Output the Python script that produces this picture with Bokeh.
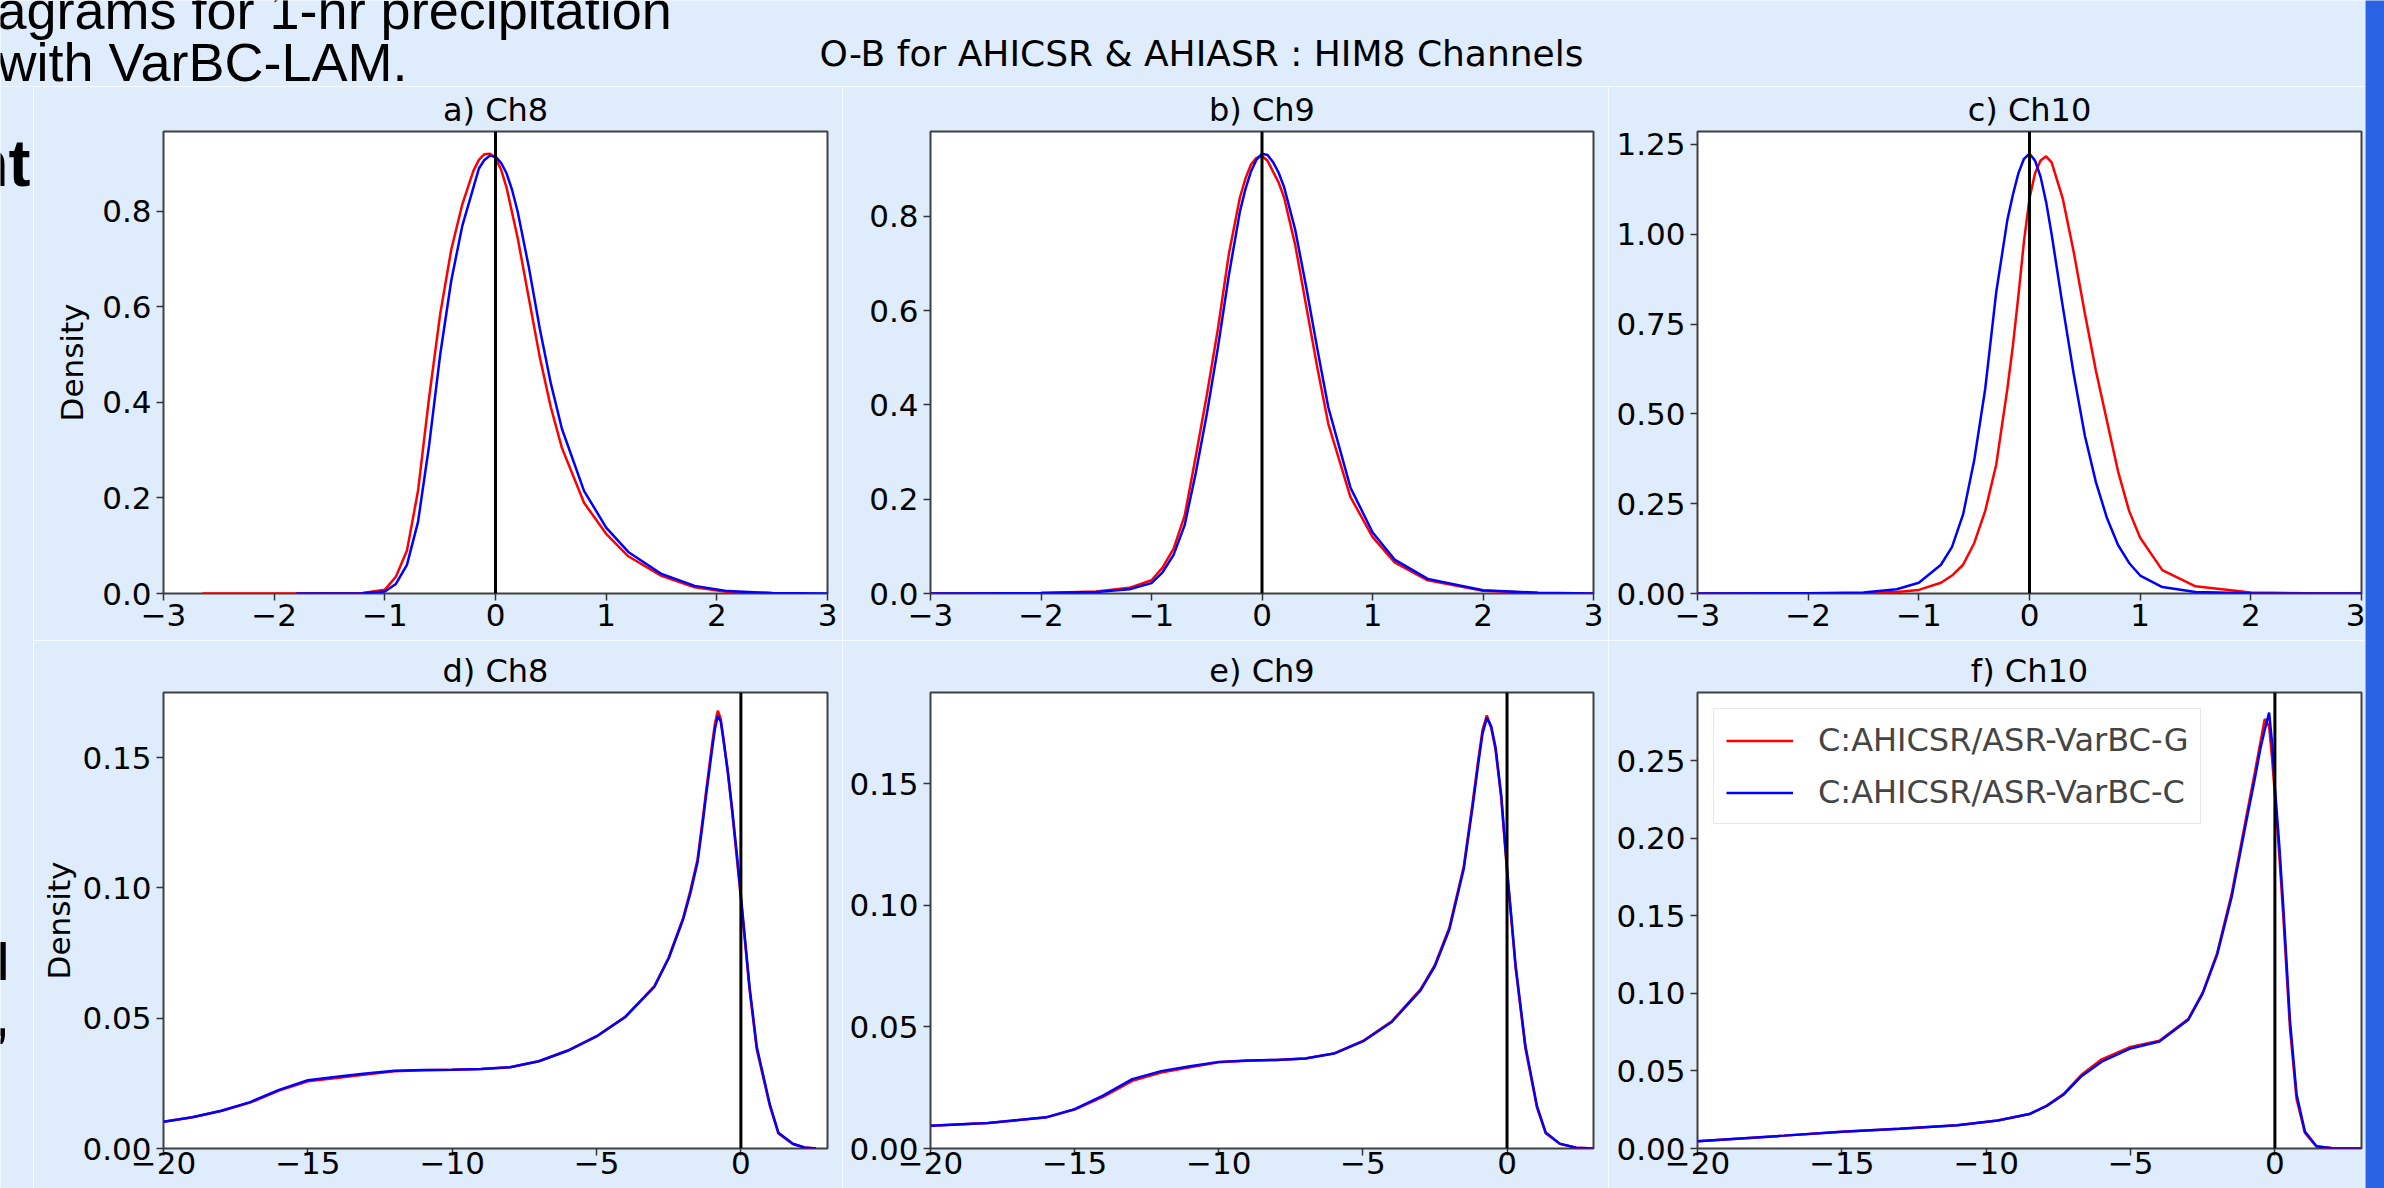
from bokeh.plotting import figure
from bokeh.models import Range1d, FixedTicker, Span, Label, Legend, LegendItem
from bokeh.layouts import row, column
from bokeh.embed import file_html
from bokeh.resources import INLINE

# ---------------- data ----------------
SUPTITLE = "O-B for AHICSR & AHIASR : HIM8 Channels"
TITLES = ["a) Ch8", "b) Ch9", "c) Ch10", "d) Ch8", "e) Ch9", "f) Ch10"]
SERIES = ["C:AHICSR/ASR-VarBC-G", "C:AHICSR/ASR-VarBC-C"]
SLIDE_LINE1 = "agrams for 1-hr precipitation"
SLIDE_LINE2 = "with VarBC-LAM."
SLIDE_FRAG = "nt"
SLIDE_FRAG2 = "l"
SLIDE_FRAG3 = ","

# panel a (Ch8, clear sky)
XA_G = [-2.65, -1.8, -1.2, -1.0, -0.9, -0.8, -0.7, -0.6, -0.5, -0.4, -0.3, -0.2, -0.15, -0.1, -0.05, 0.0,
        0.05, 0.1, 0.2, 0.3, 0.4, 0.5, 0.6, 0.8, 1.0, 1.2, 1.5, 1.8, 2.1, 2.55]
A_G = [0.0, 0.0, 0.001, 0.008, 0.035, 0.09, 0.215, 0.41, 0.585, 0.72, 0.815, 0.885, 0.908, 0.92, 0.921, 0.912,
       0.888, 0.85, 0.745, 0.62, 0.495, 0.39, 0.305, 0.19, 0.125, 0.078, 0.037, 0.013, 0.003, 0.0005]
XA_C = [-1.8, -1.2, -1.0, -0.9, -0.8, -0.7, -0.6, -0.5, -0.4, -0.3, -0.2, -0.15, -0.1, -0.05, 0.0, 0.05,
        0.1, 0.15, 0.2, 0.3, 0.4, 0.5, 0.6, 0.8, 1.0, 1.2, 1.5, 1.8, 2.1, 2.5, 3.0]
A_C = [0.0, 0.0005, 0.004, 0.02, 0.06, 0.15, 0.31, 0.50, 0.655, 0.77, 0.85, 0.89, 0.908, 0.917, 0.915, 0.902,
       0.88, 0.845, 0.80, 0.685, 0.555, 0.44, 0.345, 0.215, 0.138, 0.087, 0.041, 0.016, 0.005, 0.001, 0.0]

# panel b (Ch9, clear sky)
XB = [-3.0, -2.0, -1.5, -1.2, -1.0, -0.9, -0.8, -0.7, -0.6, -0.5, -0.4, -0.3, -0.2, -0.15, -0.1, -0.05, 0.0,
      0.05, 0.1, 0.15, 0.2, 0.3, 0.4, 0.5, 0.6, 0.8, 1.0, 1.2, 1.5, 2.0, 2.5, 3.0]
B_G = [0.0, 0.001, 0.004, 0.012, 0.028, 0.055, 0.095, 0.165, 0.29, 0.42, 0.56, 0.72, 0.84, 0.88, 0.91, 0.924,
       0.928, 0.918, 0.895, 0.872, 0.84, 0.74, 0.61, 0.48, 0.36, 0.205, 0.12, 0.066, 0.028, 0.006, 0.001, 0.0]
B_C = [0.0, 0.001, 0.003, 0.009, 0.022, 0.045, 0.082, 0.145, 0.255, 0.38, 0.52, 0.675, 0.81, 0.858, 0.895, 0.92,
       0.933, 0.93, 0.915, 0.893, 0.862, 0.772, 0.65, 0.52, 0.395, 0.225, 0.13, 0.072, 0.031, 0.007, 0.0015, 0.0]

# panel c (Ch10, clear sky)
XC = [-3.0, -2.0, -1.5, -1.2, -1.0, -0.8, -0.7, -0.6, -0.5, -0.4, -0.3, -0.2, -0.15, -0.1, -0.05, 0.0, 0.05,
      0.1, 0.15, 0.2, 0.3, 0.4, 0.5, 0.6, 0.7, 0.8, 0.9, 1.0, 1.2, 1.5, 2.0, 2.5, 3.0]
C_G = [0.0, 0.0, 0.001, 0.004, 0.01, 0.03, 0.05, 0.08, 0.14, 0.23, 0.36, 0.57, 0.69, 0.83, 0.98, 1.10, 1.17,
       1.205, 1.217, 1.20, 1.10, 0.95, 0.78, 0.62, 0.48, 0.34, 0.23, 0.155, 0.065, 0.02, 0.003, 0.0005, 0.0]
C_C = [0.0, 0.0005, 0.003, 0.012, 0.03, 0.08, 0.13, 0.22, 0.37, 0.57, 0.84, 1.04, 1.11, 1.17, 1.21, 1.224,
       1.205, 1.16, 1.09, 1.00, 0.80, 0.61, 0.44, 0.31, 0.21, 0.135, 0.085, 0.05, 0.018, 0.004, 0.0005, 0.0, 0.0]

# panel d (Ch8, all sky)
XD = [-20, -19, -18, -17, -16, -15, -14, -13, -12, -11, -10, -9, -8, -7, -6, -5, -4, -3, -2.5, -2, -1.75,
      -1.5, -1.35, -1.2, -1.0, -0.9, -0.8, -0.7, -0.6, -0.45, -0.3, -0.15, 0.0, 0.3, 0.55, 1.0, 1.3, 1.8,
      2.2, 2.6]
D_G = [0.0103, 0.0120, 0.0144, 0.0176, 0.0222, 0.0258, 0.0271, 0.0284, 0.0296, 0.0300, 0.0302, 0.0305,
       0.0312, 0.0335, 0.0376, 0.0431, 0.0506, 0.0622, 0.0733, 0.0885, 0.0990, 0.1110, 0.1240, 0.1375,
       0.1550, 0.1630, 0.1680, 0.1650, 0.1570, 0.1440, 0.1290, 0.1125, 0.0960, 0.0610, 0.0380, 0.0165,
       0.0058, 0.0017, 0.0004, 0.0]
D_C = [0.0103, 0.0120, 0.0145, 0.0178, 0.0225, 0.0262, 0.0275, 0.0288, 0.0298, 0.0301, 0.0302, 0.0305,
       0.0312, 0.0335, 0.0375, 0.0430, 0.0505, 0.0620, 0.0730, 0.0880, 0.0980, 0.1100, 0.1225, 0.1360,
       0.1530, 0.1610, 0.1660, 0.1640, 0.1565, 0.1445, 0.1300, 0.1140, 0.0970, 0.0620, 0.0390, 0.0170,
       0.0060, 0.0018, 0.0004, 0.0]

# panel e (Ch9, all sky)
XE = [-20, -18, -16, -15, -14, -13, -12, -11, -10, -9, -8, -7, -6, -5, -4, -3, -2.5, -2, -1.5, -1.2,
      -1.0, -0.85, -0.7, -0.55, -0.4, -0.2, 0.0, 0.3, 0.64, 1.04, 1.34, 1.83, 2.4, 3.0]
E_G = [0.0093, 0.0105, 0.0127, 0.0160, 0.0213, 0.0278, 0.0312, 0.0334, 0.0354, 0.0361, 0.0364, 0.0370,
       0.0391, 0.0442, 0.0523, 0.0654, 0.0755, 0.0908, 0.1160, 0.1415, 0.1595, 0.1720, 0.1780, 0.1730,
       0.1640, 0.1440, 0.1140, 0.0740, 0.0410, 0.0168, 0.0063, 0.0019, 0.0003, 0.0]
E_C = [0.0093, 0.0105, 0.0128, 0.0162, 0.0218, 0.0285, 0.0318, 0.0338, 0.0356, 0.0362, 0.0364, 0.0370,
       0.0390, 0.0440, 0.0520, 0.0650, 0.0750, 0.0900, 0.1150, 0.1400, 0.1580, 0.1705, 0.1770, 0.1735,
       0.1650, 0.1450, 0.1150, 0.0750, 0.0420, 0.0174, 0.0066, 0.0020, 0.0003, 0.0]

# panel f (Ch10, all sky)
XF = [-20, -17, -15, -13, -11, -9.6, -8.5, -7.9, -7.3, -6.7, -6, -5, -4, -3, -2.5, -2, -1.5, -1, -0.7,
      -0.5, -0.35, -0.2, -0.1, 0.0, 0.15, 0.29, 0.52, 0.75, 1.04, 1.44, 2.0, 3.0]
F_G = [0.0047, 0.0083, 0.0108, 0.0127, 0.0150, 0.0180, 0.0222, 0.0277, 0.0355, 0.0475, 0.0575, 0.0655,
       0.0695, 0.0835, 0.1005, 0.1260, 0.1640, 0.2130, 0.2420, 0.2620, 0.2770, 0.2720, 0.2520, 0.2280,
       0.1900, 0.1500, 0.0780, 0.0320, 0.0100, 0.0013, 0.0002, 0.0]
F_C = [0.0047, 0.0083, 0.0108, 0.0127, 0.0150, 0.0180, 0.0222, 0.0275, 0.0350, 0.0466, 0.0560, 0.0645,
       0.0690, 0.0830, 0.1000, 0.1250, 0.1620, 0.2100, 0.2380, 0.2580, 0.2700, 0.2810, 0.2620, 0.2330,
       0.1960, 0.1560, 0.0830, 0.0350, 0.0110, 0.0015, 0.0002, 0.0]

# ticks and tick labels
XT_TOP = [-3, -2, -1, 0, 1, 2, 3]
XT_TOP_LABELS = ["\u22123", "\u22122", "\u22121", "0", "1", "2", "3"]
XT_BOT = [-20, -15, -10, -5, 0]
XT_BOT_LABELS = ["\u221220", "\u221215", "\u221210", "\u22125", "0"]
YT_AB = [0.0, 0.2, 0.4, 0.6, 0.8]
YT_AB_LABELS = ["0.0", "0.2", "0.4", "0.6", "0.8"]
YT_C = [0.0, 0.25, 0.5, 0.75, 1.0, 1.25]
YT_C_LABELS = ["0.00", "0.25", "0.50", "0.75", "1.00", "1.25"]
YT_DE = [0.0, 0.05, 0.1, 0.15]
YT_DE_LABELS = ["0.00", "0.05", "0.10", "0.15"]
YT_F = [0.0, 0.05, 0.1, 0.15, 0.2, 0.25]
YT_F_LABELS = ["0.00", "0.05", "0.10", "0.15", "0.20", "0.25"]

# ---------------- styling ----------------
BG = "#dfecfc"
BAR = "#2962e3"
FRAME = "#404040"
FONT = "DejaVu Sans"
SLIDE_FONT = "Liberation Sans"
RED = "#ff0000"
BLUE = "#0000ff"


def make_panel(title, width, height, mbl, mbr, mbt, mbb, xr, ytop, xt, xtl, yt, ytl,
               curves, ylabel=None, ylabel_standoff=2, legend=False, xstandoff=3):
    p = figure(width=width, height=height, x_range=Range1d(*xr), y_range=Range1d(0, ytop),
               output_backend="svg", toolbar_location=None, title=title,
               min_border_left=mbl, min_border_right=mbr, min_border_top=mbt, min_border_bottom=mbb)
    p.background_fill_color = "white"
    p.border_fill_color = BG
    p.outline_line_color = FRAME
    p.outline_line_width = 2
    p.grid.visible = False
    p.title.text_font = FONT
    p.title.text_font_size = "32px"
    p.title.text_font_style = "normal"
    p.title.text_color = "black"
    p.title.align = "center"
    p.title.standoff = 5
    for ax in (p.xaxis[0], p.yaxis[0]):
        ax.axis_line_color = None
        ax.major_tick_in = 0
        ax.major_tick_out = 7
        ax.major_tick_line_color = "#333333"
        ax.major_tick_line_width = 1.5
        ax.minor_tick_line_color = None
        ax.major_label_text_font = FONT
        ax.major_label_text_font_size = "31px"
        ax.major_label_text_color = "black"
    p.xaxis.ticker = FixedTicker(ticks=xt)
    p.xaxis.major_label_overrides = dict(zip(xt, xtl))
    p.xaxis.major_label_standoff = xstandoff
    p.yaxis.ticker = FixedTicker(ticks=yt)
    p.yaxis.major_label_overrides = dict(zip(yt, ytl))
    p.yaxis.major_label_standoff = 5
    if ylabel:
        p.yaxis.axis_label = ylabel
        p.yaxis.axis_label_text_font = FONT
        p.yaxis.axis_label_text_font_size = "31px"
        p.yaxis.axis_label_text_font_style = "normal"
        p.yaxis.axis_label_text_color = "black"
        p.yaxis.axis_label_standoff = ylabel_standoff
    rends = []
    for xs, ys, col in curves:
        rends.append(p.line(xs, ys, line_color=col, line_width=2.5))
    p.add_layout(Span(location=0, dimension="height", line_color="black", line_width=3))
    if legend:
        lg = Legend(items=[LegendItem(label=SERIES[i], renderers=[rends[i]]) for i in range(2)],
                    location="top_left")
        lg.margin = 16
        lg.padding = 12
        lg.spacing = 14
        lg.glyph_width = 67
        lg.glyph_height = 37
        lg.label_height = 37
        lg.label_standoff = 25
        lg.label_text_font = FONT
        lg.label_text_font_size = "32px"
        lg.border_line_color = "#d0d0d0"
        lg.border_line_width = 1.5
        lg.background_fill_color = "white"
        lg.background_fill_alpha = 0.8
        p.add_layout(lg)
    return p


def blank(width, height, color):
    p = figure(width=width, height=height, x_range=Range1d(0, width), y_range=Range1d(0, height),
               output_backend="svg", toolbar_location=None, min_border=0,
               x_axis_type=None, y_axis_type=None)
    p.outline_line_color = None
    p.background_fill_color = color
    p.border_fill_color = color
    return p


HDR_H = 86
ROW1_H = 554
ROW2_H = 548
LEFT_H = ROW1_H + ROW2_H

# header with slide text and suptitle
hdr = blank(2365, HDR_H, BG)
hdr.add_layout(Label(x=-4, y=HDR_H - 9, text=SLIDE_LINE1, text_font=SLIDE_FONT,
                     text_font_size="54px", text_color="black", text_baseline="alphabetic"))
hdr.add_layout(Label(x=-3, y=HDR_H - 61, text=SLIDE_LINE2, text_font=SLIDE_FONT,
                     text_font_size="54px", text_color="black", text_baseline="alphabetic"))
hdr.add_layout(Label(x=1201, y=HDR_H - 53, text=SUPTITLE, text_font=FONT, text_font_size="36px",
                     text_color="black", text_align="center", text_baseline="alphabetic"))

left = blank(33, LEFT_H, BG)
left.add_layout(Label(x=30, y=LEFT_H - 76, text=SLIDE_FRAG, text_font=SLIDE_FONT,
                      text_font_size="66px", text_font_style="bold", text_color="black",
                      text_align="right", text_baseline="alphabetic"))
left.add_layout(Label(x=9, y=LEFT_H - 875, text=SLIDE_FRAG2, text_font=SLIDE_FONT,
                      text_font_size="52px", text_font_style="bold", text_color="black",
                      text_align="right", text_baseline="alphabetic"))
left.add_layout(Label(x=8, y=LEFT_H - 931, text=SLIDE_FRAG3, text_font=SLIDE_FONT,
                      text_font_size="52px", text_font_style="bold", text_color="black",
                      text_align="right", text_baseline="alphabetic"))

fa = make_panel(TITLES[0], 809, ROW1_H, 130, 15, 45, 47, (-3, 3), 0.9675, XT_TOP, XT_TOP_LABELS,
                YT_AB, YT_AB_LABELS, [(XA_G, A_G, RED), (XA_C, A_C, BLUE)], ylabel="Density",
                ylabel_standoff=9)
fb = make_panel(TITLES[1], 766, ROW1_H, 88, 15, 45, 47, (-3, 3), 0.98, XT_TOP, XT_TOP_LABELS,
                YT_AB, YT_AB_LABELS, [(XB, B_G, RED), (XB, B_C, BLUE)])
fc = make_panel(TITLES[2], 757, ROW1_H, 89, 4, 45, 47, (-3, 3), 1.286, XT_TOP, XT_TOP_LABELS,
                YT_C, YT_C_LABELS, [(XC, C_G, RED), (XC, C_C, BLUE)])
fd = make_panel(TITLES[3], 809, ROW2_H, 130, 15, 52, 40, (-20, 3), 0.175, XT_BOT, XT_BOT_LABELS,
                YT_DE, YT_DE_LABELS, [(XD, D_G, RED), (XD, D_C, BLUE)], ylabel="Density", xstandoff=-4)
fe = make_panel(TITLES[4], 766, ROW2_H, 88, 15, 52, 40, (-20, 3), 0.1874, XT_BOT, XT_BOT_LABELS,
                YT_DE, YT_DE_LABELS, [(XE, E_G, RED), (XE, E_C, BLUE)], xstandoff=-4)
ff = make_panel(TITLES[5], 757, ROW2_H, 89, 4, 52, 40, (-20, 3), 0.294, XT_BOT, XT_BOT_LABELS,
                YT_F, YT_F_LABELS, [(XF, F_G, RED), (XF, F_C, BLUE)], legend=True, xstandoff=-4)

bar = blank(19, HDR_H + LEFT_H, BAR)

grid = column(row(fa, fb, fc), row(fd, fe, ff))
main = column(hdr, row(left, grid))
root = row(main, bar)

open("out.html", "w").write(file_html(root, INLINE))
